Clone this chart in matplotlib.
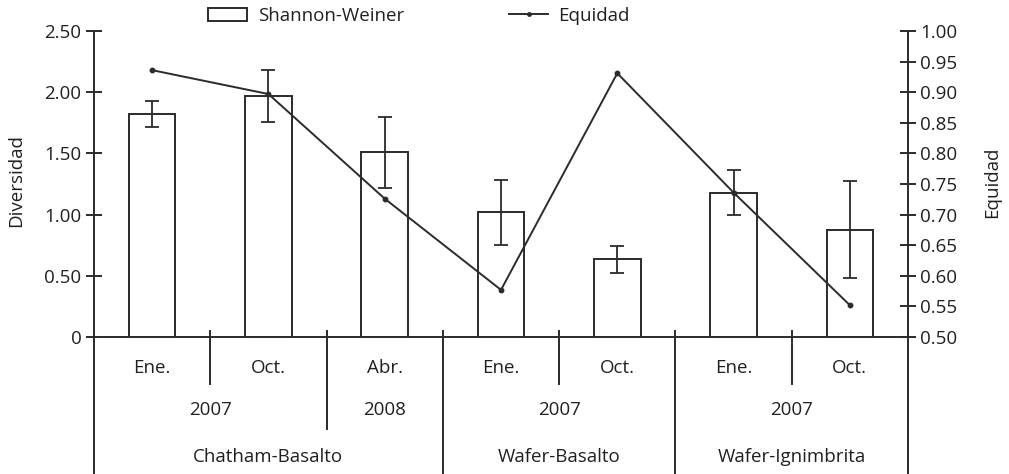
import matplotlib
matplotlib.use("Agg")
import matplotlib.pyplot as plt
from matplotlib.patches import Patch
from matplotlib.lines import Line2D
import numpy as np

plt.rcParams['font.family'] = ['Open Sans', 'DejaVu Sans']

months = ["Ene.", "Oct.", "Abr.", "Ene.", "Oct.", "Ene.", "Oct."]
years = ["2007", "2008", "2007", "2007"]
year_centers = [0.5, 2.0, 3.5, 5.5]
groups = ["Chatham-Basalto", "Wafer-Basalto", "Wafer-Ignimbrita"]
group_centers = [1.0, 3.5, 5.5]
shannon = [1.82, 1.97, 1.51, 1.02, 0.635, 1.18, 0.877]
shannon_err = [0.105, 0.215, 0.29, 0.265, 0.11, 0.185, 0.395]
equidad = [0.936, 0.897, 0.726, 0.577, 0.931, 0.736, 0.552]
month_seps = [0.5, 3.5, 5.5]
year_seps = [1.5]
group_seps = [2.5, 4.5]

ink = '#2b2b2b'
txt = '#231f20'
fs = 13.5

fig = plt.figure(figsize=(10.09, 4.74), dpi=100)
ax = fig.add_axes([94/1009, 137/474, 814/1009, 306/474])
x = np.arange(len(shannon))
ax.bar(x, shannon, width=0.4, color='white', edgecolor=ink, linewidth=1.4, zorder=2)
ax.errorbar(x, shannon, yerr=shannon_err, fmt='none', ecolor=ink, elinewidth=1.3,
            capsize=5, capthick=1.3, zorder=3)
ax.set_xlim(-0.5, 6.5)
ax.set_ylim(0, 2.5)
ax.set_yticks([0, 0.5, 1.0, 1.5, 2.0, 2.5])
ax.set_yticklabels(["0", "0.50", "1.00", "1.50", "2.00", "2.50"])
ax.set_xticks([])
for s in ['top', 'right']:
    ax.spines[s].set_visible(False)
ax.spines['left'].set_color(ink)
ax.spines['bottom'].set_color(ink)
ax.spines['left'].set_linewidth(1.4)
ax.spines['bottom'].set_linewidth(1.4)
ax.tick_params(axis='y', direction='inout', length=12, width=1.4, color=ink,
               labelsize=fs, labelcolor=txt, pad=3)
ax.set_ylabel("Diversidad", fontsize=fs, color=txt)
ax.yaxis.set_label_coords(-0.0848, 0.51)

ax2 = ax.twinx()
ax2.plot(x, equidad, color=ink, linewidth=1.4, marker='o', markersize=3.2, zorder=4)
ax2.set_ylim(0.5, 1.0)
ax2.set_yticks(np.round(np.arange(0.5, 1.001, 0.05), 2))
ax2.set_yticklabels([f"{v:.2f}" for v in np.arange(0.5, 1.001, 0.05)])
for s in ['top', 'left', 'bottom']:
    ax2.spines[s].set_visible(False)
ax2.spines['right'].set_color(ink)
ax2.spines['right'].set_linewidth(1.4)
ax2.tick_params(axis='y', direction='inout', length=12, width=1.4, color=ink,
                labelsize=fs, labelcolor=txt, pad=3)
ax2.set_ylabel("Equidad", fontsize=fs, color=txt, rotation=90)
ax2.yaxis.set_label_coords(1.092, 0.505)

trans = ax.get_xaxis_transform()
top = 6/306
for xs in month_seps:
    ax.plot([xs, xs], [top, -47/306], transform=trans, color=ink, lw=1.4, clip_on=False)
for xs in year_seps:
    ax.plot([xs, xs], [top, -92/306], transform=trans, color=ink, lw=1.4, clip_on=False)
for xs in group_seps:
    ax.plot([xs, xs], [top, -140/306], transform=trans, color=ink, lw=1.4, clip_on=False)
for xs in [-0.5, 6.5]:
    ax.plot([xs, xs], [0, -140/306], transform=trans, color=ink, lw=1.4, clip_on=False)

for i, m in enumerate(months):
    ax.text(i, -31/306, m, transform=trans, ha='center', va='center', fontsize=fs, color=txt)
for c, yv in zip(year_centers, years):
    ax.text(c, -73/306, yv, transform=trans, ha='center', va='center', fontsize=fs, color=txt)
for c, g in zip(group_centers, groups):
    ax.text(c, -120/306, g, transform=trans, ha='center', va='center', fontsize=fs, color=txt)

handles = [Patch(facecolor='white', edgecolor=ink, linewidth=1.4),
           Line2D([0], [0], color=ink, lw=1.4, marker='o', markersize=2.5)]
leg = fig.legend(handles, ["Shannon-Weiner", "Equidad"], ncol=2, loc='center left',
                 bbox_to_anchor=(208/1009, 1 - 16/474), frameon=False, fontsize=fs,
                 handlelength=2.1, handleheight=0.75, handletextpad=0.55, columnspacing=5.6,
                 borderaxespad=0, borderpad=0)
for t in leg.get_texts():
    t.set_color(txt)

fig.savefig("out.png", dpi=100)
